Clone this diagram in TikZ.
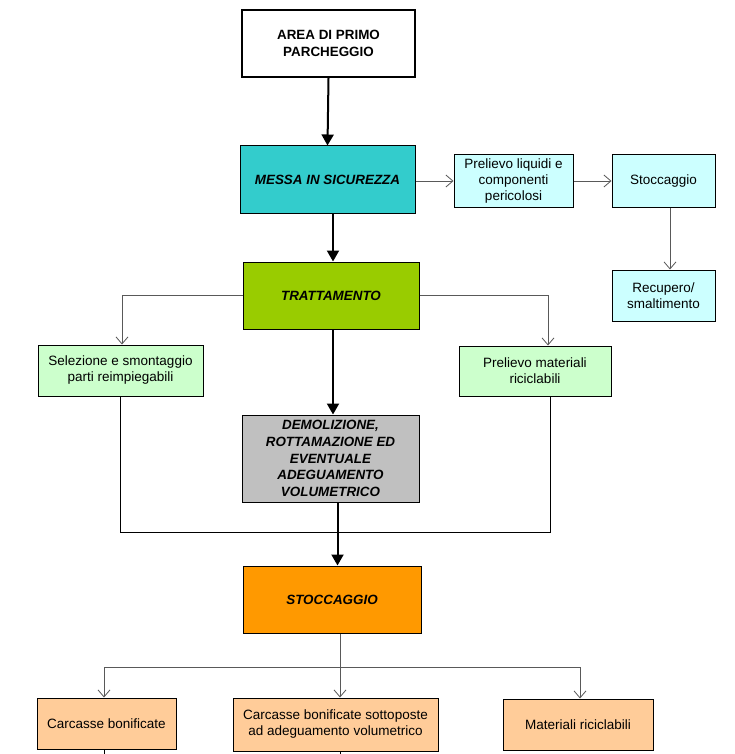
\documentclass[tikz,border=0pt]{standalone}
\usepackage{fontspec}
\setmainfont{Liberation Sans}
\usetikzlibrary{arrows.meta}
\definecolor{cTeal}{HTML}{33CCCC}
\definecolor{cCyanL}{HTML}{CCFFFF}
\definecolor{cGreen}{HTML}{99CC00}
\definecolor{cGreenL}{HTML}{CCFFCC}
\definecolor{cGray}{HTML}{C0C0C0}
\definecolor{cOrange}{HTML}{FF9900}
\definecolor{cPeach}{HTML}{FFCC99}
\begin{document}
\begin{tikzpicture}[x=1pt,y=-1pt,
  box/.style={draw=black,line width=1pt,align=center,inner sep=2pt,
    font=\fontsize{13.5}{16}\selectfont},
  mainbox/.style={box,font=\fontsize{13.4}{16.7}\selectfont\bfseries\itshape},
  bigarrow/.style={line width=2pt,-{Triangle[length=11pt,width=12pt]}},
  smallarrow/.style={draw=black!65,line width=0.8pt,-{Straight Barb[length=7pt,width=12pt]}},
  link/.style={draw=black,line width=0.8pt}]
\useasboundingbox (0,0) rectangle (735,754);
\fill[white] (0,0) rectangle (735,754);

\node[box,fill=white,line width=2pt,minimum width=173pt,minimum height=67pt,
  font=\fontsize{13.4}{16.7}\selectfont\bfseries] (area) at (328.5,43.5) {AREA DI PRIMO\\PARCHEGGIO};
\node[mainbox,fill=cTeal,minimum width=175pt,minimum height=67pt] (messa) at (327.5,179.5) {MESSA IN SICUREZZA};
\node[box,fill=cCyanL,minimum width=119pt,minimum height=52pt] (pl) at (513.5,181) {Prelievo liquidi e\\componenti\\pericolosi};
\node[box,fill=cCyanL,minimum width=103pt,minimum height=52pt] (st) at (663.5,181) {Stoccaggio};
\node[box,fill=cCyanL,minimum width=103pt,minimum height=51pt] (rec) at (663.5,295.5) {Recupero/\\smaltimento};
\node[mainbox,fill=cGreen,minimum width=176pt,minimum height=67pt] (tr) at (331,295.5) {TRATTAMENTO};
\node[box,fill=cGreenL,minimum width=165pt,minimum height=51pt] (sel) at (120.5,370.5) {Selezione e smontaggio\\parti reimpiegabili};
\node[box,fill=cGreenL,minimum width=152pt,minimum height=50pt] (pm) at (535,371) {Prelievo materiali\\riciclabili};
\node[mainbox,fill=cGray,minimum width=177pt,minimum height=87pt] (dem) at (330.5,458.5) {DEMOLIZIONE,\\ROTTAMAZIONE ED\\EVENTUALE\\ADEGUAMENTO\\VOLUMETRICO};
\node[mainbox,fill=cOrange,minimum width=178pt,minimum height=67pt] (stoc) at (332,599.5) {STOCCAGGIO};
\node[box,fill=cPeach,minimum width=139pt,minimum height=51pt] (cb) at (106.5,723.5) {Carcasse bonificate};
\node[box,fill=cPeach,minimum width=205pt,minimum height=53pt] (cbs) at (335.5,724.5) {Carcasse bonificate sottoposte\\ad adeguamento volumetrico};
\node[box,fill=cPeach,minimum width=150pt,minimum height=51pt] (mr) at (578,724.5) {Materiali riciclabili};

\coordinate (j) at (338,532);
\coordinate (h) at (340,667);

\draw[bigarrow] (area.south) -- (messa.north);
\draw[smallarrow] (messa.east |- pl.west) -- (pl.west);
\draw[smallarrow] (pl.east) -- (st.west);
\draw[smallarrow] ([xshift=6.5pt]st.south) -- ([xshift=6.5pt]st.south |- rec.north);
\draw[bigarrow] ([xshift=5.5pt]messa.south) -- ([xshift=5.5pt]messa.south |- tr.north);
\draw[smallarrow] (tr.west) -| ([xshift=1.5pt]sel.north);
\draw[smallarrow] (tr.east) -| ([xshift=13pt]pm.north);
\draw[bigarrow] ([xshift=2pt]tr.south) -- ([xshift=2pt]tr.south |- dem.north);
\draw[link] (sel.south) |- ([xshift=15pt]pm.south |- j) -- ([xshift=15pt]pm.south);
\draw[bigarrow] ([xshift=7pt]dem.south) -- ([xshift=7pt]dem.south |- stoc.north);
\draw[smallarrow] ([xshift=8pt]stoc.south) -- ([xshift=8pt]stoc.south |- cbs.north);
\draw[smallarrow] (h) -| ([xshift=-2.5pt]cb.north);
\draw[smallarrow] (h) -| ([xshift=2pt]mr.north);
\draw[link] ([xshift=-2.5pt]cb.south) -- ++(0,8);
\draw[link] ([xshift=4.5pt]cbs.south) -- ++(0,8);
\end{tikzpicture}
\end{document}
